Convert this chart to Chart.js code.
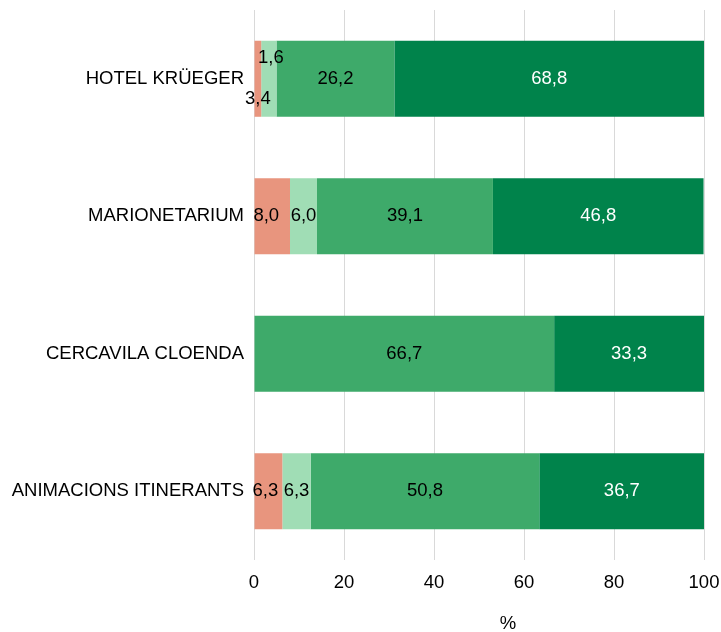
<!DOCTYPE html>
<html>
<head>
<meta charset="utf-8">
<script src="https://cdn.jsdelivr.net/npm/chart.js@4"></script>
<style>
html,body{margin:0;padding:0;background:#fff;}
#wrap{width:721px;height:632px;position:relative;}
</style>
</head>
<body>
<div id="wrap"><canvas id="c"></canvas></div>
<script>
const categories = ["HOTEL KRÜEGER", "MARIONETARIUM", "CERCAVILA CLOENDA", "ANIMACIONS ITINERANTS"];
const seriesNames = ["Dolent", "Regular", "Bo", "Molt bo"];
const seriesA = [1.6, 8.0, 0, 6.3];
const seriesB = [3.4, 6.0, 0, 6.3];
const seriesC = [26.2, 39.1, 66.7, 50.8];
const seriesD = [68.8, 46.8, 33.3, 36.7];
const xTicks = [0, 20, 40, 60, 80, 100];
const xTitle = "%";

const colors = ["#E8957E", "#A0DDB5", "#3EAA6A", "#00834B"];
const labelColors = ["#000", "#000", "#000", "#fff"];
const FONT = "'Liberation Sans', Arial, sans-serif";
const FS = 18.5;

// label nudges (datasetIndex-categoryIndex)
const nudges = { "0-0": [13, -21], "1-0": [-11, 20], "0-1": [-6, 0], "0-3": [-3, 0] };

const labelPlugin = {
  id: 'segLabels',
  afterDatasetsDraw(chart) {
    const ctx = chart.ctx;
    ctx.save();
    ctx.font = FS + "px " + FONT;
    ctx.textAlign = 'center';
    ctx.textBaseline = 'middle';
    chart.data.datasets.forEach((ds, di) => {
      const meta = chart.getDatasetMeta(di);
      meta.data.forEach((bar, i) => {
        const v = ds.data[i];
        if (!v) return;
        const cx = (bar.x + bar.base) / 2;
        const n = nudges[di + "-" + i] || [0, 0];
        ctx.fillStyle = labelColors[di];
        ctx.fillText(v.toFixed(1).replace('.', ','), cx + n[0], bar.y + n[1]);
      });
    });
    // axis title
    const xs = chart.scales.x;
    ctx.fillStyle = '#000';
    ctx.textBaseline = 'alphabetic';
    ctx.fillText(xTitle, (xs.left + xs.right) / 2 + 29, chart.height - 3);
    ctx.restore();
  }
};

const data = {
  labels: categories,
  datasets: [seriesA, seriesB, seriesC, seriesD].map((d, i) => ({
    label: seriesNames[i],
    data: d,
    backgroundColor: colors[i],
    borderWidth: 0,
    barPercentage: 0.553,
    categoryPercentage: 1.0
  }))
};

new Chart(document.getElementById('c'), {
  type: 'bar',
  data: data,
  plugins: [labelPlugin],
  options: {
    indexAxis: 'y',
    responsive: true,
    maintainAspectRatio: false,
    animation: false,
    layout: { padding: { top: 10, right: 17, left: 0, bottom: 0 } },
    plugins: { legend: { display: false }, tooltip: { enabled: false } },
    scales: {
      x: {
        stacked: true,
        min: 0, max: 100,
        afterBuildTicks: (s) => { s.ticks = xTicks.map(v => ({ value: v })); },
        afterFit: (s) => { s.height = 72; s.paddingLeft = 0; s.paddingRight = 0; },
        grid: { color: '#d9d9d9', drawTicks: false, lineWidth: 1 },
        border: { display: false },
        ticks: { color: '#000', font: { size: FS, family: FONT }, padding: 12 },
        title: { display: false }
      },
      y: {
        stacked: true,
        afterFit: (s) => { s.width = 254; s.paddingTop = 0; s.paddingBottom = 0; },
        grid: { display: false, drawTicks: false },
        border: { display: false },
        ticks: { color: '#000', font: { size: FS, family: FONT }, padding: 10 }
      }
    }
  }
});
</script>
</body>
</html>
